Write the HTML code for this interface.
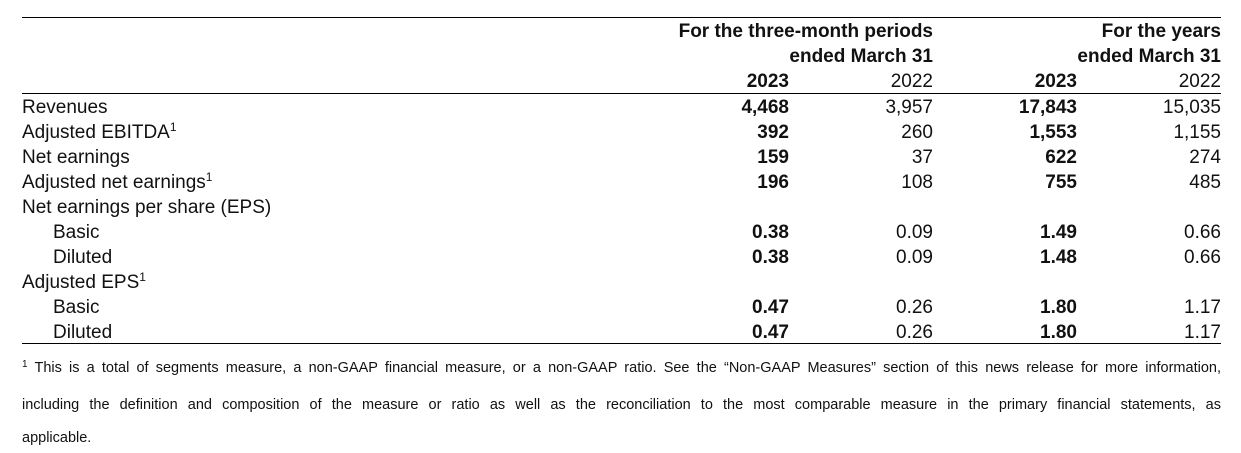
<!DOCTYPE html>
<html><head><style>
body{margin:0;background:#fff;width:1241px;height:453px;position:relative;font-family:"Liberation Sans",sans-serif;color:#111;overflow:hidden}
.hl{position:absolute;left:22px;width:1199px;height:1px;background:#000}
.r{position:absolute;left:0;width:1241px;height:25px;font-size:19px;line-height:25px}
.r span{position:absolute;white-space:nowrap}
.l{left:22px}.i{left:53px}
.c1{right:452px;font-weight:bold}.c2{right:308px}.c3{right:164px;font-weight:bold}.c4{right:20px}
.h{font-weight:bold}
sup{font-size:12px;vertical-align:7px;line-height:0}
.fn{position:absolute;left:22px;width:1199px;font-size:14.5px;text-align:justify;text-align-last:justify}
</style></head><body>
<div class="hl" style="top:17px"></div>
<div class="hl" style="top:93px"></div>
<div class="hl" style="top:343px"></div>
<div class="r" style="top:19px"><span class="h" style="right:308px">For the three-month periods</span><span class="h" style="right:20px">For the years</span></div>
<div class="r" style="top:44px"><span class="h" style="right:308px">ended March 31</span><span class="h" style="right:20px">ended March 31</span></div>
<div class="r" style="top:69px"><span class="c1">2023</span><span class="c2">2022</span><span class="c3">2023</span><span class="c4">2022</span></div>
<div class="r" style="top:95px"><span class="l">Revenues</span><span class="c1">4,468</span><span class="c2">3,957</span><span class="c3">17,843</span><span class="c4">15,035</span></div>
<div class="r" style="top:120px"><span class="l">Adjusted EBITDA<sup>1</sup></span><span class="c1">392</span><span class="c2">260</span><span class="c3">1,553</span><span class="c4">1,155</span></div>
<div class="r" style="top:145px"><span class="l">Net earnings</span><span class="c1">159</span><span class="c2">37</span><span class="c3">622</span><span class="c4">274</span></div>
<div class="r" style="top:170px"><span class="l">Adjusted net earnings<sup>1</sup></span><span class="c1">196</span><span class="c2">108</span><span class="c3">755</span><span class="c4">485</span></div>
<div class="r" style="top:195px"><span class="l">Net earnings per share (EPS)</span></div>
<div class="r" style="top:220px"><span class="i">Basic</span><span class="c1">0.38</span><span class="c2">0.09</span><span class="c3">1.49</span><span class="c4">0.66</span></div>
<div class="r" style="top:245px"><span class="i">Diluted</span><span class="c1">0.38</span><span class="c2">0.09</span><span class="c3">1.48</span><span class="c4">0.66</span></div>
<div class="r" style="top:270px"><span class="l">Adjusted EPS<sup>1</sup></span></div>
<div class="r" style="top:295px"><span class="i">Basic</span><span class="c1">0.47</span><span class="c2">0.26</span><span class="c3">1.80</span><span class="c4">1.17</span></div>
<div class="r" style="top:320px"><span class="i">Diluted</span><span class="c1">0.47</span><span class="c2">0.26</span><span class="c3">1.80</span><span class="c4">1.17</span></div>
<div class="fn" style="top:360px"><sup style="font-size:10px;vertical-align:5px">1</sup> This is a total of segments measure, a non-GAAP financial measure, or a non-GAAP ratio. See the “Non-GAAP Measures” section of this news release for more information,</div>
<div class="fn" style="top:397px">including the definition and composition of the measure or ratio as well as the reconciliation to the most comparable measure in the primary financial statements, as</div>
<div class="fn" style="top:430px;text-align-last:left">applicable.</div>
</body></html>
